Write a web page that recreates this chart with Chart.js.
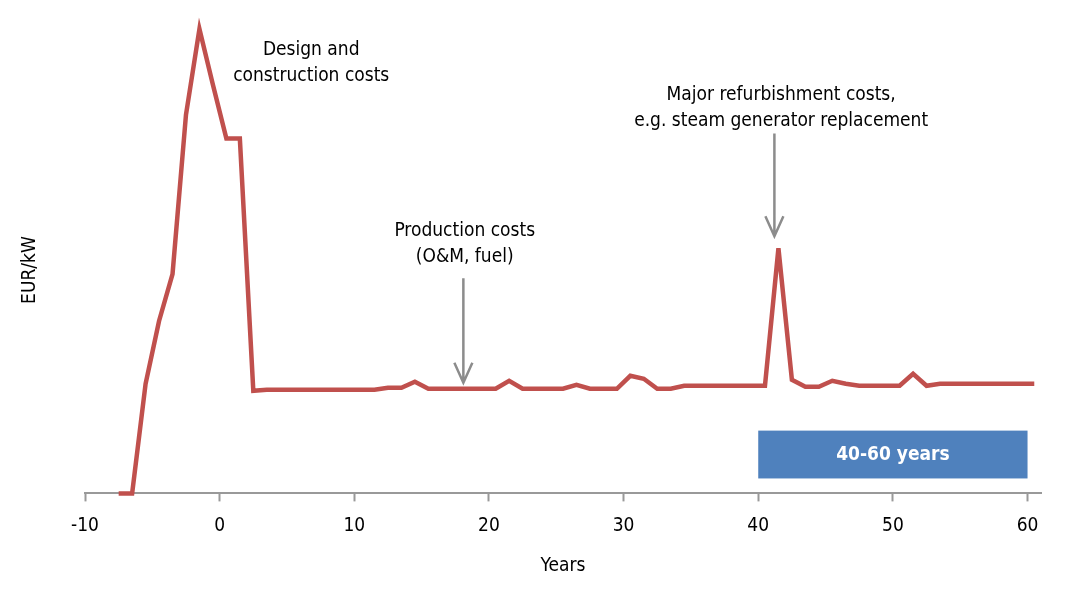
<!DOCTYPE html>
<html>
<head>
<meta charset="utf-8">
<script src="https://cdn.jsdelivr.net/npm/chart.js@4/dist/chart.umd.min.js"></script>
<style>
  body { margin: 0; background: #fff; }
  #wrap { width: 1091px; height: 601px; }
</style>
</head>
<body>
<div id="wrap"><canvas id="myChart" width="1091" height="601"></canvas></div>
<script>
const years = [-7.5, -6.5, -5.5, -4.5, -3.5, -2.5, -1.5, -0.5, 0.5, 1.5, 2.5, 3.5, 4.5, 5.5, 6.5, 7.5, 8.5, 9.5, 10.5, 11.5,
  12.5, 13.5, 14.5, 15.5, 16.5, 17.5, 18.5, 19.5, 20.5, 21.5, 22.5, 23.5, 24.5, 25.5, 26.5, 27.5, 28.5, 29.5, 30.5, 31.5,
  32.5, 33.5, 34.5, 35.5, 36.5, 37.5, 38.5, 39.5, 40.5, 41.5, 42.5, 43.5, 44.5, 45.5, 46.5, 47.5, 48.5, 49.5, 50.5, 51.5,
  52.5, 53.5, 54.5, 55.5, 56.5, 57.5, 58.5, 59.5, 60.5];
const costs = [0, 0, 110, 173, 220, 380, 466, 410, 356, 356, 103, 104, 104, 104, 104, 104, 104, 104, 104, 104,
  106, 106, 112, 105, 105, 105, 105, 105, 105, 113, 105, 105, 105, 105, 109, 105, 105, 105, 118, 115,
  105, 105, 108, 108, 108, 108, 108, 108, 108, 246, 114, 107, 107, 113, 110, 108, 108, 108, 108, 120,
  108, 110, 110, 110, 110, 110, 110, 110, 110];
const tickYears = [-10, 0, 10, 20, 30, 40, 50, 60];

// annotation texts: [x year, y value, lines]
const notes = [
  [6.8, 445, ["Design and", "construction costs"]],
  [18.2, 263, ["Production costs", "(O&M, fuel)"]],
  [41.7, 400, ["Major refurbishment costs,", "e.g. steam generator replacement"]]
];
// arrows: [x year, from value, to value]
const arrows = [
  [18.1, 216, 111],
  [41.2, 361, 258]
];
const spanBox = [40, 60, 15, 63, "40-60 years"];

const FONT = "'Liberation Sans Narrow', 'Arial Narrow', 'DejaVu Sans Condensed', sans-serif";

const extras = {
  id: "extras",
  afterDatasetsDraw(chart) {
    const c = chart.ctx, x = chart.scales.x, y = chart.scales.y;
    c.save();
    // blue span box
    let bx0 = x.getPixelForValue(spanBox[0]), bx1 = x.getPixelForValue(spanBox[1]);
    let by0 = y.getPixelForValue(spanBox[3]), by1 = y.getPixelForValue(spanBox[2]);
    c.fillStyle = "#4f81bd";
    c.fillRect(bx0, by0, bx1 - bx0, by1 - by0);
    c.fillStyle = "#fff";
    c.font = "bold 19px " + FONT;
    c.textAlign = "center";
    c.textBaseline = "middle";
    c.fillText(spanBox[4], (bx0 + bx1) / 2, (by0 + by1) / 2 + 1);

    // texts
    c.fillStyle = "#000";
    c.font = "19px " + FONT;
    notes.forEach(n => {
      let px = x.getPixelForValue(n[0]), py = y.getPixelForValue(n[1]);
      n[2].forEach((t, i) => c.fillText(t, px, py + i * 26));
    });

    // arrows
    c.strokeStyle = "#8c8c8c";
    c.lineWidth = 2.5;
    arrows.forEach(a => {
      let px = x.getPixelForValue(a[0]);
      let p0 = y.getPixelForValue(a[1]), p1 = y.getPixelForValue(a[2]);
      c.beginPath();
      c.moveTo(px, p0);
      c.lineTo(px, p1);
      c.moveTo(px - 9, p1 - 20);
      c.lineTo(px, p1);
      c.lineTo(px + 9, p1 - 20);
      c.stroke();
    });

    // y title
    c.fillStyle = "#000";
    c.font = "19px " + FONT;
    c.translate(30, 270);
    c.rotate(-Math.PI / 2);
    c.fillText("EUR/kW", 0, 0);
    c.restore();
  }
};

const ctx = document.getElementById("myChart").getContext("2d");

new Chart(ctx, {
  type: "line",
  data: {
    datasets: [
      {
        data: years.map((yr, i) => ({ x: yr, y: costs[i] })),
        borderColor: "#c0504d",
        borderWidth: 4.5,
        pointRadius: 0,
        tension: 0,
        clip: false,
      },
    ],
  },
  options: {
    responsive: false,
    animation: false,
    layout: { padding: { left: 85, right: 50, top: 22, bottom: 24 } },
    plugins: {
      legend: { display: false },
      tooltip: { enabled: false },
    },
    scales: {
      x: {
        type: "linear",
        min: -10,
        max: 61,
        afterBuildTicks: (s) => { s.ticks = tickYears.map(v => ({ value: v })); },
        ticks: { color: "#000", font: { family: FONT, size: 19 }, padding: 13, maxRotation: 0 },
        grid: { drawOnChartArea: false, drawTicks: true, tickLength: 8, color: "#999", tickWidth: 2 },
        border: { color: "#999", width: 2 },
        title: { display: true, text: "Years", color: "#000", font: { family: FONT, size: 19 }, padding: { top: 4, bottom: 0 } },
      },
      y: {
        display: false,
        min: 0,
        max: 473,
      },
    },
  },
  plugins: [extras],
});
</script>
</body>
</html>
